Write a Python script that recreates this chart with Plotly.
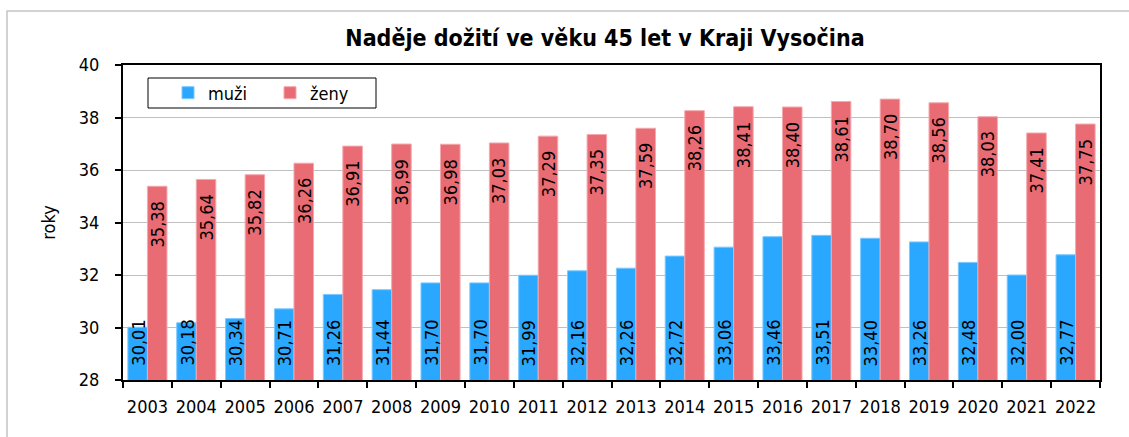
import plotly.graph_objects as go

years = [str(y) for y in range(2003, 2023)]
muzi = [30.01, 30.18, 30.34, 30.71, 31.26, 31.44, 31.70, 31.70, 31.99, 32.16,
        32.26, 32.72, 33.06, 33.46, 33.51, 33.40, 33.26, 32.48, 32.00, 32.77]
zeny = [35.38, 35.64, 35.82, 36.26, 36.91, 36.99, 36.98, 37.03, 37.29, 37.35,
        37.59, 38.26, 38.41, 38.40, 38.61, 38.70, 38.56, 38.03, 37.41, 37.75]
title = "Naděje dožití ve věku 45 let v Kraji Vysočina"
y_title = "roky"
y_range = [28, 40]

BLUE = "#2AA8FF"
RED = "#E96B73"
FONT = "DejaVu Sans Condensed, Liberation Sans, sans-serif"
FS = 18

W, H = 1129, 437
L, R, T, B = 123, 29, 65, 57
pw, ph = W - L - R, H - T - B


def fmt(v):
    return f"{v:.2f}".replace(".", ",")


def px_x(x):
    return (x - L) / pw


def px_y(y):
    return 1 - (y - T) / ph


fig = go.Figure()
fig.add_bar(name="muži", x=years, y=muzi, marker=dict(color=BLUE, line=dict(color="#7CC8FF", width=1)))
fig.add_bar(name="ženy", x=years, y=zeny, marker=dict(color=RED, line=dict(color="#F4A9AE", width=1)))

cat_w = pw / len(years)
off = cat_w * 0.8 / 4

ann = []
for i, yr in enumerate(years):
    ann.append(dict(x=i, y=y_range[0], xref="x", yref="y", text=fmt(muzi[i]), textangle=-90,
                    showarrow=False, xanchor="center", yanchor="bottom", xshift=-off, yshift=12,
                    font=dict(family=FONT, size=FS, color="black")))
    ann.append(dict(x=i, y=zeny[i], xref="x", yref="y", text=fmt(zeny[i]), textangle=-90,
                    showarrow=False, xanchor="center", yanchor="top", xshift=off, yshift=-13,
                    font=dict(family=FONT, size=FS, color="black")))

shapes = [
    dict(type="rect", xref="paper", yref="paper", x0=px_x(7), x1=px_x(1160), y0=px_y(470), y1=px_y(11),
         line=dict(color="#C4C4C4", width=1.5), fillcolor="rgba(0,0,0,0)", layer="below"),
    dict(type="rect", xref="paper", yref="paper", x0=px_x(148), x1=px_x(376), y0=px_y(108), y1=px_y(78),
         line=dict(color="black", width=1), fillcolor="white", layer="above"),
]

fig.update_layout(
    width=W, height=H,
    margin=dict(l=L, r=R, t=T, b=B, pad=0),
    paper_bgcolor="white", plot_bgcolor="white",
    font=dict(family=FONT, size=FS, color="black"),
    title=dict(text=f"<b>{title}</b>", xref="container", x=605 / W, xanchor="center",
               yref="container", y=1 - 38 / H, yanchor="middle",
               font=dict(family=FONT, size=23, color="black")),
    barmode="group", bargap=0.2, bargroupgap=0,
    showlegend=True,
    legend=dict(orientation="h", x=px_x(168), xanchor="left", y=px_y(93), yanchor="middle",
                bgcolor="rgba(0,0,0,0)", borderwidth=0, entrywidth=57, entrywidthmode="pixels",
                font=dict(family=FONT, size=FS, color="black"), itemclick=False),
    shapes=shapes,
    annotations=ann,
)
fig.update_xaxes(type="category", showline=True, linecolor="black", linewidth=2, mirror=True,
                 ticks="outside", tickson="boundaries", ticklen=6, tickcolor="black", tickwidth=1.5,
                 showgrid=False, ticklabelstandoff=9, tickangle=0, automargin=False,
                 tickfont=dict(family=FONT, size=FS))
fig.update_yaxes(range=y_range, dtick=2, showline=True, linecolor="black", linewidth=2, mirror=True,
                 ticks="outside", ticklen=6, tickcolor="black", tickwidth=1.5,
                 showgrid=True, gridcolor="#C0C0C0", gridwidth=1, zeroline=False, automargin=False,
                 ticklabelstandoff=12, tickfont=dict(family=FONT, size=FS),
                 title=dict(text=y_title, standoff=18, font=dict(family=FONT, size=18)))

fig.write_html("out.html", config={"displayModeBar": False},
               post_script="document.body.style.margin='0';")
